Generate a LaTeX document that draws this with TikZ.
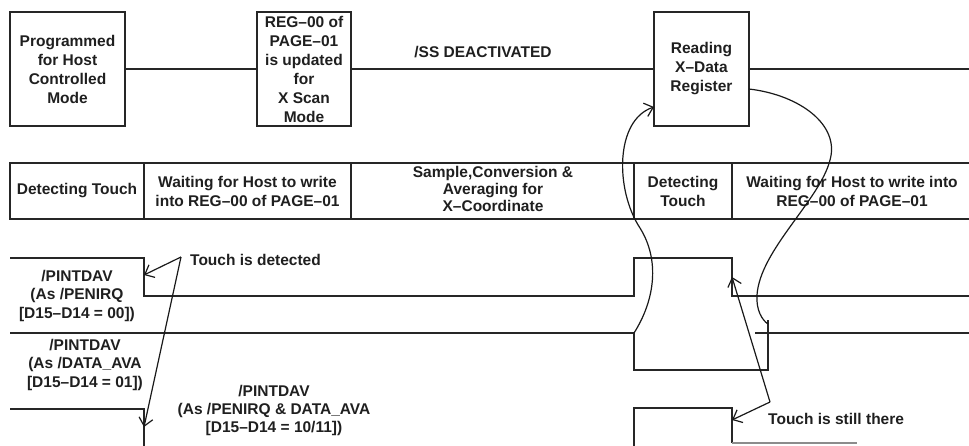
\documentclass[tikz,border=0pt]{standalone}
\usepackage{fontspec}
\setmainfont{Liberation Sans}
\usetikzlibrary{arrows.meta}
\begin{document}
\begin{tikzpicture}[x=1pt,y=-1pt,
  txt/.style={font=\bfseries\fontsize{15.5}{19}\selectfont, align=center, text=black!88, inner sep=0pt},
  box/.style={txt, draw=black!85, line width=1.3pt, minimum height=114pt},
  ln/.style={line width=1.3pt, draw=black!85},
  arr/.style={line width=1.2pt, draw=black!90, -{Straight Barb[length=8pt,width=14pt]}}]
\useasboundingbox (0,0) rectangle (969,445);

% ---- top row: boxes ----
\node[box, minimum width=115pt] (b1) at (67.5,69) {Programmed\\for Host\\Controlled\\Mode};
\node[box, minimum width=94pt] (b2) at (304,69) {REG–00 of\\PAGE–01\\is updated\\for\\X Scan\\Mode};
\node[box, minimum width=95pt] (b3) at (701.5,69) {Reading\\X–Data\\Register};
\coordinate (tr) at (969,69);
\draw[ln] (b1.east) -- (b2.west);
\draw[ln] (b2.east) -- (b3.west);
\draw[ln] (b3.east) -- (tr);
\node[txt] (ss) at (483,52) {/SS DEACTIVATED};

% ---- state row ----
\draw[ln] (969,163) -- (10,163) -- (10,219) -- (969,219);
\draw[ln] (144,163) -- (144,219);
\draw[ln] (351,163) -- (351,219);
\draw[ln] (634,163) -- (634,219);
\draw[ln] (732,163) -- (732,219);
\node[txt] (s1) at (77,191) {Detecting Touch};
\node[txt] (s2) at (247.5,191.5) {Waiting for Host to write\\into REG–00 of PAGE–01};
\node[txt, font=\bfseries\fontsize{15.5}{17}\selectfont] (s3) at (493,188.5) {Sample,Conversion \&\\Averaging for\\X–Coordinate};
\node[txt] (s4) at (683,191.5) {Detecting\\Touch};
\node[txt] (s5) at (852,191.5) {Waiting for Host to write into\\REG–00 of PAGE–01};

% ---- waveforms ----
\coordinate (w1a) at (144,275);
\coordinate (w1b) at (732,277);
\coordinate (w2a) at (634,333);
\coordinate (w2b) at (768,324);
\coordinate (w3a) at (144,427);
\coordinate (w3b) at (732,420);
\draw[ln] (10,258) -- (144,258) -- (144,296) -- (634,296) -- (634,258) -- (732,258) -- (732,296) -- (969,296);
\draw[ln] (10,333) -- (634,333) -- (634,370) -- (768,370) -- (768,320);
\draw[ln] (755,333) -- (969,333);
\draw[ln] (10,409) -- (144,409) -- (144,446);
\draw[ln] (634,446) -- (634,408) -- (732,408) -- (732,443);
\draw[line width=1.3pt, draw=black!45] (732,443) -- (857,443);

\node[txt, font=\bfseries\fontsize{15.5}{18.5}\selectfont] (p1) at (77,295.5) {/PINTDAV\\(As /PENIRQ\\{[}D15–D14 = 00{]})};
\node[txt, font=\bfseries\fontsize{15.5}{18.5}\selectfont] (p2) at (85,364.5) {/PINTDAV\\(As /DATA\_AVA\\ {[}D15–D14 = 01{]})};
\node[txt, font=\bfseries\fontsize{15.5}{18}\selectfont] (p3) at (274,410) {/PINTDAV\\(As /PENIRQ \& DATA\_AVA\\{[}D15–D14 = 10/11{]})};

% ---- annotations ----
\node[txt, anchor=west] (td) at (190,260) {Touch is detected};
\coordinate (tdc) at (181,257);
\draw[arr] (tdc) -- (w1a);
\draw[arr] (tdc) -- (w3a);
\node[txt, anchor=west] (ts) at (768,419) {Touch is still there};
\coordinate (tsc) at (770,402);
\draw[arr] (tsc) -- (w3b);
\draw[arr] (tsc) -- (w1b);

% ---- curved arrows ----
\coordinate (c1) at (654,107);
\draw[arr] (w2a) .. controls (655,300) and (660,260) .. (640,228)
                 .. controls (615,190) and (615,120) .. (c1);
\coordinate (c2) at (749,89);
\draw[line width=1.2pt, draw=black!90] (c2) .. controls (800,95) and (840,125) .. (830,160)
                 .. controls (820,200) and (760,250) .. (757,295)
                 .. controls (756,310) and (762,320) .. (w2b);
\end{tikzpicture}
\end{document}
